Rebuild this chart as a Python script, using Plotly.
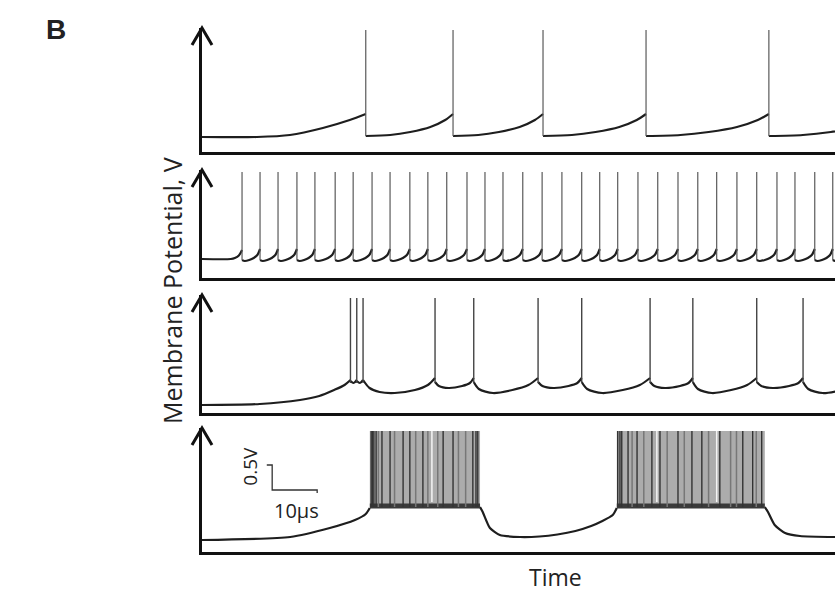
import plotly.graph_objects as go

# ---------------- data (time in µs, potential in V) ----------------
T_END = 140.7

# Panel 1: tonic spiking
p1_spikes = [36.4, 55.8, 75.8, 98.7, 126.0]
p1_peak = 2.44
p1_first_frac = [0, 0.335, 0.537, 0.738, 0.902, 1.0]
p1_first_v = [0.30, 0.30, 0.34, 0.48, 0.64, 0.76]
p1_ramp_frac = [0, 0.28, 0.51, 0.74, 0.91, 1.0]
p1_ramp_v = [0.32, 0.34, 0.40, 0.50, 0.64, 0.76]
p1_tail_len = 27.0

# Panel 2: fast spiking
p2_spikes = [8.9, 12.9, 16.9, 21.1, 25.1, 29.6, 33.6, 37.8, 41.8, 46.2, 50.2,
             54.4, 58.9, 62.9, 66.9, 71.3, 75.6, 80.0, 84.4, 88.4, 92.4, 96.9,
             101.3, 105.8, 110.2, 114.4, 118.9, 123.3, 127.8, 131.8, 136.2, 140.2]
p2_peak = 2.12
p2_first_frac = [0, 0.72, 0.82, 0.92, 1.0]
p2_first_v = [0.38, 0.38, 0.40, 0.45, 0.56]
p2_ramp_frac = [0, 0.15, 0.4, 0.65, 0.85, 1.0]
p2_ramp_v = [0.36, 0.34, 0.36, 0.40, 0.46, 0.58]

# Panel 3: initial burst then spiking
p3_spikes = [33.0, 34.4, 35.8, 51.8, 60.4, 74.7, 84.4, 99.6, 109.1, 123.3, 133.6]
p3_peak = 2.30
p3_first_frac = [0, 0.39, 0.66, 0.79, 0.89, 0.96, 1.0]
p3_first_v = [0.16, 0.18, 0.26, 0.34, 0.46, 0.56, 0.66]
p3_burst_frac = [0, 0.5, 1.0]
p3_burst_v = [0.64, 0.60, 0.66]
p3_post_frac = [0, 0.09, 0.23, 0.44, 0.72, 0.9, 1.0]
p3_post_v = [0.66, 0.50, 0.42, 0.40, 0.46, 0.56, 0.70]
p3_long_frac = [0, 0.08, 0.3, 0.6, 0.85, 1.0]
p3_long_v = [0.62, 0.48, 0.40, 0.46, 0.56, 0.70]
p3_short_frac = [0, 0.1, 0.35, 0.7, 0.9, 1.0]
p3_short_v = [0.62, 0.54, 0.50, 0.54, 0.60, 0.70]
p3_kinds = ['S', 'L', 'S', 'L', 'S', 'L', 'S', 'L']
p3_tail_len = 14.5

# Panel 4: bursting
p4_seg_t = [[0, 19.6, 28.4, 34.0, 36.4, 37.3],
            [61.8, 62.4, 64.0, 66.2, 70.7, 75.0, 79.0, 83.0, 86.5, 89.0, 91.3, 92.2],
            [125.1, 125.8, 127.3, 129.6, 132.9, 140.7]]
p4_seg_v = [[0.24, 0.30, 0.48, 0.64, 0.76, 0.88],
            [0.90, 0.80, 0.48, 0.34, 0.30, 0.31, 0.35, 0.42, 0.52, 0.62, 0.74, 0.88],
            [0.90, 0.80, 0.54, 0.38, 0.32, 0.30]]
p4_bursts = [(37.3, 61.8), (92.2, 125.1)]
p4_burst_base = 0.90
p4_burst_top = 2.42
p4_dark = [37.6, 37.9, 38.2, 38.7, 40.0, 41.8, 44.7, 46.2, 49.1, 53.6, 55.8, 60.2, 60.9, 61.3,
           92.4, 92.9, 93.3, 94.7, 96.7, 100.0, 101.8, 105.8, 108.9, 111.1, 115.1, 120.2, 122.4, 124.4]
p4_mid = [39.2, 42.8, 47.5, 50.2, 52.4, 57.0, 58.6, 95.6, 98.2, 103.4, 107.2, 112.6, 117.5, 118.8, 123.2]
p4_gaps = [51.1, 101.1, 114.4]

# scale bar
SB_T0, SB_T1 = 15.6, 25.6
SB_V0, SB_V1 = 1.24, 1.74

# ---------------- layout geometry ----------------
W, H = 835, 592
ML, MR, MT, MB = 202, 0, 27, 40
PW, PH = W - ML - MR, H - MT - MB
PX_PER_V = 50.0
panels_px = [(152, 28), (278, 170), (413, 295), (552, 428)]  # (bottom, top) in page px


def py(page_y):
    return (H - MB - page_y) / PH


def px(page_x):
    return (page_x - ML) / PW


INK = '#1e1e1e'
SPK = '#5a5a5a'

fig = go.Figure()


def seg(t0, t1, frac, v):
    return [t0 + f * (t1 - t0) for f in frac], list(v)


def add_ramps(segs, axis, smooth=0.8):
    xs, ys = [], []
    for x, y in segs:
        xs += x + [None]
        ys += y + [None]
    fig.add_trace(go.Scatter(x=xs, y=ys, mode='lines',
                             line=dict(color=INK, width=2.2, shape='spline', smoothing=smooth),
                             xaxis='x' + axis, yaxis='y' + axis, hoverinfo='skip', showlegend=False))


def add_spikes(times, lows, peak, axis, color=SPK, width=1.2):
    xs, ys = [], []
    for t, lo in zip(times, lows):
        xs += [t, t, None]
        ys += [lo, peak, None]
    fig.add_trace(go.Scatter(x=xs, y=ys, mode='lines', line=dict(color=color, width=width),
                             xaxis='x' + axis, yaxis='y' + axis, hoverinfo='skip', showlegend=False))


# Panel 1
segs = [seg(0, p1_spikes[0], p1_first_frac, p1_first_v)]
for a, b in zip(p1_spikes[:-1], p1_spikes[1:]):
    segs.append(seg(a, b, p1_ramp_frac, p1_ramp_v))
segs.append(seg(p1_spikes[-1], p1_spikes[-1] + p1_tail_len, p1_ramp_frac, p1_ramp_v))
add_ramps(segs, '')
add_spikes(p1_spikes, [p1_ramp_v[0]] * len(p1_spikes), p1_peak, '')

# Panel 2
segs = [seg(0, p2_spikes[0], p2_first_frac, p2_first_v)]
for a, b in zip(p2_spikes[:-1], p2_spikes[1:]):
    segs.append(seg(a, b, p2_ramp_frac, p2_ramp_v))
segs.append(seg(p2_spikes[-1], p2_spikes[-1] + 4.3, p2_ramp_frac, p2_ramp_v))
add_ramps(segs, '2')
add_spikes(p2_spikes, [p2_ramp_v[0]] * len(p2_spikes), p2_peak, '2')

# Panel 3
segs = [seg(0, p3_spikes[0], p3_first_frac, p3_first_v),
        seg(p3_spikes[0], p3_spikes[1], p3_burst_frac, p3_burst_v),
        seg(p3_spikes[1], p3_spikes[2], p3_burst_frac, p3_burst_v),
        seg(p3_spikes[2], p3_spikes[3], p3_post_frac, p3_post_v)]
ends = p3_spikes[4:] + [p3_spikes[-1] + p3_tail_len]
for a, b, k in zip(p3_spikes[3:], ends, p3_kinds):
    fr, vv = (p3_long_frac, p3_long_v) if k == 'L' else (p3_short_frac, p3_short_v)
    segs.append(seg(a, b, fr, vv))
add_ramps(segs, '3')
add_spikes(p3_spikes, [0.6] * len(p3_spikes), p3_peak, '3', color='#444', width=1.4)

# Panel 4
add_ramps(list(zip(p4_seg_t, p4_seg_v)), '4', smooth=0.6)
for t0, t1 in p4_bursts:
    fig.add_trace(go.Scatter(x=[t0, t1, t1, t0, t0],
                             y=[p4_burst_base, p4_burst_base, p4_burst_top, p4_burst_top, p4_burst_base],
                             mode='lines', fill='toself', fillcolor='#acacac', line=dict(width=0, color='#acacac'),
                             xaxis='x4', yaxis='y4', hoverinfo='skip', showlegend=False))
    fig.add_trace(go.Scatter(x=[t0, t1, t1, t0, t0],
                             y=[p4_burst_base - 0.03, p4_burst_base - 0.03, p4_burst_base + 0.07,
                                p4_burst_base + 0.07, p4_burst_base - 0.03],
                             mode='lines', fill='toself', fillcolor='#3a3a3a', line=dict(width=0, color='#3a3a3a'),
                             xaxis='x4', yaxis='y4', hoverinfo='skip', showlegend=False))
add_spikes(p4_mid, [p4_burst_base] * len(p4_mid), p4_burst_top, '4', color='#777', width=1.5)
add_spikes(p4_dark, [p4_burst_base] * len(p4_dark), p4_burst_top, '4', color='#333', width=1.4)
add_spikes(p4_gaps, [p4_burst_base + 0.1] * len(p4_gaps), p4_burst_top, '4', color='#f4f4f4', width=1.5)

# axes
layout = dict(width=W, height=H, margin=dict(l=ML, r=MR, t=MT, b=MB),
              paper_bgcolor='white', plot_bgcolor='white', showlegend=False)
for i, (bot, top) in enumerate(panels_px):
    sfx = '' if i == 0 else str(i + 1)
    rng = (bot - top) / PX_PER_V
    layout['xaxis' + sfx] = dict(range=[0, T_END], domain=[0, 1], anchor='y' + sfx,
                                 showline=True, linecolor='#111', linewidth=3, showticklabels=False,
                                 ticks='', showgrid=False, zeroline=False, fixedrange=True)
    layout['yaxis' + sfx] = dict(range=[0, rng], domain=[py(bot), min(py(top), 1)], anchor='x' + sfx,
                                 showline=True, linecolor='#111', linewidth=3, showticklabels=False,
                                 ticks='', showgrid=False, zeroline=False, fixedrange=True)
fig.update_layout(**layout)

shapes = []
for bot, top in panels_px:
    yt = min(py(top), 1)
    dx, dy = 10 / PW, 17 / PH
    shapes.append(dict(type='path', xref='paper', yref='paper',
                       path=f'M {-dx},{yt - dy} L 0,{yt} L {dx},{yt - dy}',
                       line=dict(color='#111', width=3)))
shapes.append(dict(type='path', xref='x4', yref='y4',
                   path=f'M {SB_T0 - 1.2},{SB_V1} L {SB_T0},{SB_V1} L {SB_T0},{SB_V0} L {SB_T1},{SB_V0} L {SB_T1},{SB_V0 - 0.06}',
                   line=dict(color='#333', width=1.3)))
fig.update_layout(shapes=shapes)

FONT = 'Open Sans'
ann = [
    dict(text='Membrane Potential, V', xref='paper', yref='paper', x=px(172), y=py(291),
         textangle=-90, showarrow=False, font=dict(family=FONT, size=25, color='#222'),
         xanchor='center', yanchor='middle'),
    dict(text='Time', xref='paper', yref='paper', x=px(555), y=py(577),
         showarrow=False, font=dict(family=FONT, size=23, color='#222'), xanchor='center', yanchor='middle'),
    dict(text='<b>B</b>', xref='paper', yref='paper', x=px(56), y=py(29),
         showarrow=False, font=dict(family='Liberation Sans', size=28, color='#222'),
         xanchor='center', yanchor='middle'),
    dict(text='0.5V', xref='x4', yref='y4', x=10.6, y=1.72, textangle=-90, showarrow=False,
         font=dict(family=FONT, size=19, color='#222'), xanchor='center', yanchor='middle'),
    dict(text='10µs', xref='x4', yref='y4', x=20.9, y=0.84, showarrow=False,
         font=dict(family=FONT, size=20, color='#222'), xanchor='center', yanchor='middle'),
]
fig.update_layout(annotations=ann)

fig.write_html('out.html', config={'displayModeBar': False},
               post_script="document.documentElement.style.margin='0';document.body.style.margin='0';"
                           "document.body.style.overflow='hidden';")
